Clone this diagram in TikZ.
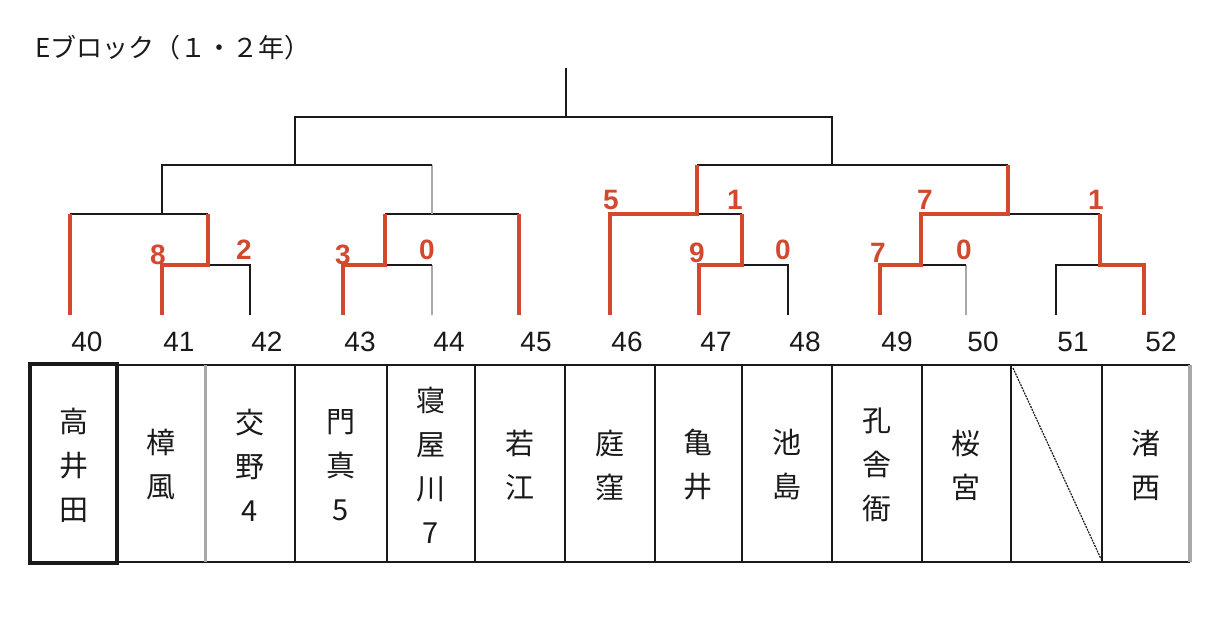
\documentclass[tikz,border=0pt]{standalone}
\usepackage{fontspec}
\newfontfamily\cjk{Noto Sans CJK JP}
\newfontfamily\digits{Liberation Sans}
\usetikzlibrary{calc}
\definecolor{ScoreRed}{HTML}{D2492E}
\definecolor{RuleGray}{HTML}{A8A8A8}
\definecolor{InkBlack}{HTML}{1A1A1A}

\begin{document}
\begin{tikzpicture}[
  x=1pt,y=-1pt,
  line cap=butt,
  line join=miter,
  loseline/.style={InkBlack,line width=2.2pt},
  paleline/.style={RuleGray,line width=2.2pt},
  winline/.style={ScoreRed,line width=4.8pt},
  cellrule/.style={InkBlack,line width=2.4pt},
  seedno/.style={font=\digits\fontsize{28}{30}\selectfont,text=InkBlack},
  scorelbl/.style={font=\digits\bfseries\fontsize{28}{28}\selectfont,text=ScoreRed},
  namecell/.style={font=\cjk\fontsize{29}{44}\selectfont,align=center,
    text=InkBlack,inner sep=0pt}
]
  \useasboundingbox (0,0) rectangle (1228,634);
  \fill[white] (0,0) rectangle (1228,634);

  \node[anchor=west,inner sep=0pt,font=\cjk\fontsize{26}{28}\selectfont,text=InkBlack]
    (title) at (35,48) {Eブロック（１・２年）};

  % team legs and seed numbers
  \foreach \no/\lx in {40/70,41/162,42/250,43/343,44/432,45/519,46/610,
      47/699,48/788,49/880,50/966,51/1056,52/1144}{
    \coordinate (t\no) at (\lx,315);
    \node[seedno] (n\no) at (\lx+17,342) {\no};
  }

  % junctions
  \coordinate (a1) at (208,265);
  \coordinate (a2) at (385,265);
  \coordinate (a3) at (742,265);
  \coordinate (a4) at (921,265);
  \coordinate (a5) at (1100,265);
  \coordinate (b1) at (162,214);
  \coordinate (b2) at (432,214);
  \coordinate (b3) at (697,214);
  \coordinate (b4) at (1008,214);
  \coordinate (c1) at (295,165);
  \coordinate (c2) at (832,165);
  \coordinate (d) at (566,117);
  \coordinate (champ) at (566,68);

  % losing side
  \draw[loseline] (t42) |- (a1);
  \draw[paleline] (t44) -- (t44|-a2);
  \draw[loseline] (t44|-a2) -- (a2);
  \draw[loseline] (t48) |- (a3);
  \draw[paleline] (t50) -- (t50|-a4);
  \draw[loseline] (t50|-a4) -- (a4);
  \draw[loseline] (t51) |- (a5);
  \draw[loseline] (t40|-b1) -- (a1|-b1);
  \draw[loseline] (a2|-b2) -- (t45|-b2);
  \draw[loseline] (b3) -- (a3|-b3);
  \draw[loseline] (b4) -- (a5|-b4);
  \draw[loseline] (b1) |- (c1);
  \draw[paleline] (b2) -- (b2|-c1);
  \draw[loseline] (b2|-c1) -- (c1);
  \draw[loseline] (b3|-c2) -- (b4|-c2);
  \draw[loseline] (c1) |- (d) -| (c2);
  \draw[loseline] (d) -- (champ);

  % winners
  \draw[winline] (t40) -- (t40|-b1);
  \draw[winline] (t41) |- (a1) -- (a1|-b1);
  \draw[winline] (t43) |- (a2) -- (a2|-b2);
  \draw[winline] (t45) -- (t45|-b2);
  \draw[winline] (t46) |- (b3) -- (b3|-c2);
  \draw[winline] (t47) |- (a3) -- (a3|-b3);
  \draw[winline] (t49) |- (a4) -- (a4|-b4) -- (b4) -- (b4|-c2);
  \draw[winline] (t52) |- (a5) -- (a5|-b4);

  % scores
  \node[scorelbl] (s41) at (158,255) {8};
  \node[scorelbl] (s42) at (244,250) {2};
  \node[scorelbl] (s43) at (343,255) {3};
  \node[scorelbl] (s44) at (427,250) {0};
  \node[scorelbl] (s46) at (611,200) {5};
  \node[scorelbl] (s48) at (735,200) {1};
  \node[scorelbl] (s47) at (697,253) {9};
  \node[scorelbl] (s49) at (783,250) {0};
  \node[scorelbl] (s49b) at (878,253) {7};
  \node[scorelbl] (s50) at (964,250) {0};
  \node[scorelbl] (s4950) at (925,200) {7};
  \node[scorelbl] (s52) at (1096,200) {1};

  % name table
  \draw[cellrule] (30,365) -- (1190,365);
  \draw[cellrule] (30,562) -- (1190,562);
  \foreach \cx in {295,387,475,565,655,742,832,922,1011,1102}
    \draw[cellrule] (\cx,365) -- (\cx,562);
  \draw[RuleGray,line width=3pt] (205,365) -- (205,562);
  \draw[RuleGray,line width=3.5pt] (1190,365) -- (1190,562);
  \draw[InkBlack,line width=4.5pt] (30,364) rectangle (117,563);
  \draw[InkBlack,line width=1.2pt,dash pattern=on 2pt off 1pt]
    (1013,368) -- (1101,559);

  \foreach \no/\cx/\name in {40/74/{高\\井\\田},41/161/{樟\\風},
      42/250/{交\\野\\4},43/341/{門\\真\\5},44/431/{寝\\屋\\川\\7},
      45/520/{若\\江},46/610/{庭\\窪},47/698/{亀\\井},48/787/{池\\島},
      49/877/{孔\\舎\\衙},50/966/{桜\\宮},52/1146/{渚\\西}}
    \node[namecell] (c\no) at (\cx,465) {\name};
\end{tikzpicture}
\end{document}
